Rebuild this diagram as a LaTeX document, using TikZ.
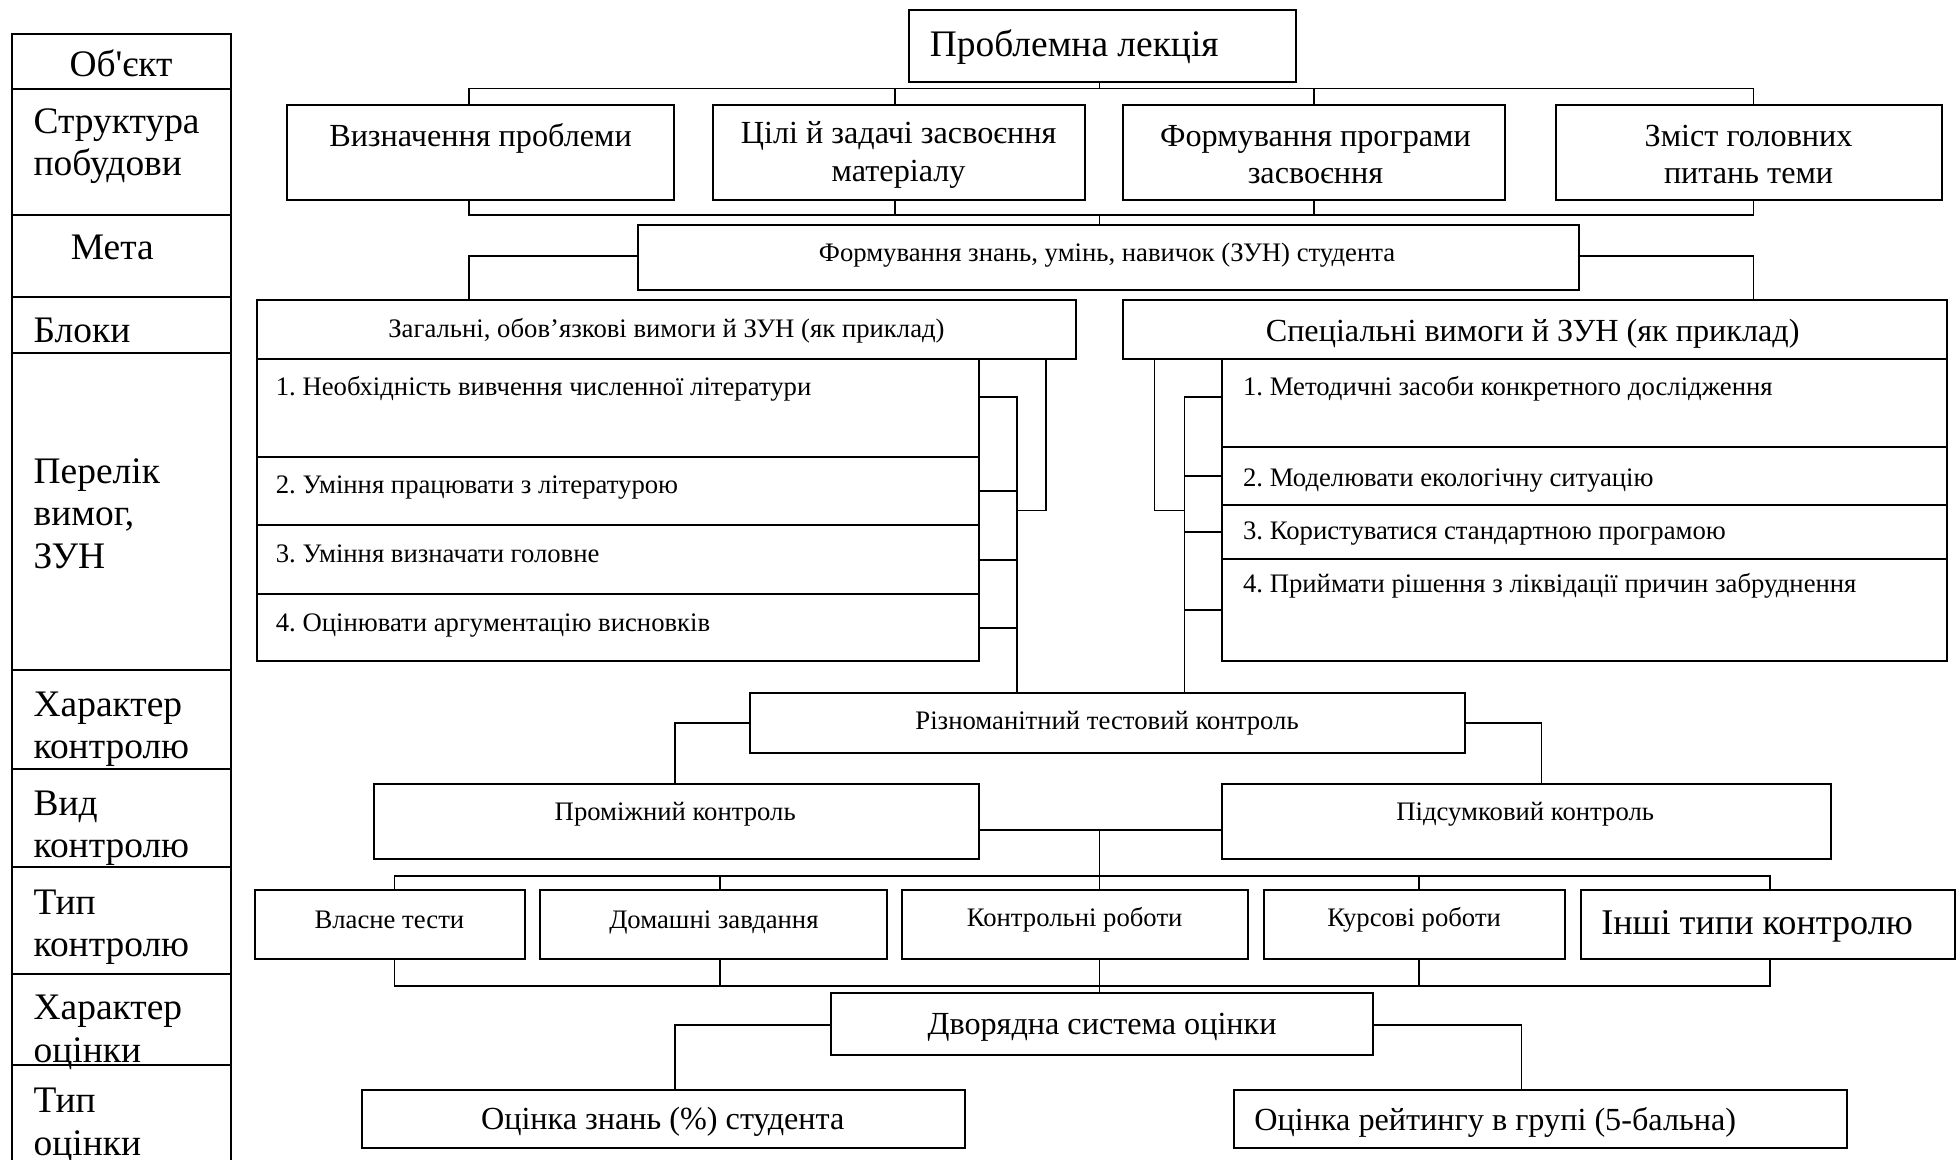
\documentclass[tikz,border=0pt]{standalone}
\usepackage{fontspec}
\setmainfont{Liberation Serif}[Ligatures=TeXOff]
\usetikzlibrary{fit}
\frenchspacing
\tikzset{
  box/.style={draw, line width=0.8pt, inner sep=0pt, outer sep=0pt},
  con/.style={line width=0.7pt},
  txt/.style={inner sep=0pt, outer sep=0pt, anchor=mid},
  ltxt/.style={inner sep=0pt, outer sep=0pt, anchor=mid west},
  mltxt/.style={inner sep=0pt, outer sep=0pt, anchor=west, align=left},
  mctxt/.style={inner sep=0pt, outer sep=0pt, anchor=center, align=center},
}
\newcommand\fColA{\fontsize{15}{17}\selectfont}
\newcommand\fInshi{\fontsize{14.5}{17}\selectfont}
\newcommand\fMid{\fontsize{12.9}{15}\selectfont}
\newcommand\fSm{\fontsize{10.7}{13}\selectfont}
\newcommand\fGrB{\fontsize{12.9}{15}\selectfont}
\newcommand\bx[5]{\node[box, fit={(#2,#3) (#4,#5)}] (#1) {};}
\begin{document}
\begin{tikzpicture}[x=0.5pt, y=-0.5pt]
\useasboundingbox (0,0) rectangle (1568,929);

% ---------- left column ----------
\bx{L1}{10}{27}{185}{71}
\bx{L2}{10}{71}{185}{172}
\bx{L3}{10}{172}{185}{238}
\bx{L4}{10}{238}{185}{283}
\bx{L5}{10}{283}{185}{537}
\bx{L6}{10}{537}{185}{616}
\bx{L7}{10}{616}{185}{695}
\bx{L8}{10}{695}{185}{780}
\bx{L9}{10}{780}{185}{853}
\bx{L10}{10}{853}{185}{945}

\node[txt, font=\fColA] (tL1) at (97,57) {Об'єкт};
\node[mltxt, font=\fColA] (tL2) at (27,117) {Структура\\побудови};
\node[txt, font=\fColA] (tL3) at (90,203) {Мета};
\node[ltxt, font=\fColA] (tL4) at (27,270) {Блоки};
\node[mltxt, font=\fColA] (tL5) at (27,411.5) {Перелік\\вимог,\\ЗУН};
\node[mltxt, font=\fColA] (tL6) at (27,584.5) {Характер\\контролю};
\node[mltxt, font=\fColA] (tL7) at (27,663.5) {Вид\\контролю};
\node[mltxt, font=\fColA] (tL8) at (27,743) {Тип\\контролю};
\node[mltxt, font=\fColA] (tL9) at (27,827) {Характер\\оцінки};
\node[mltxt, font=\fColA] (tL10) at (27,901.5) {Тип\\оцінки};

% ---------- boxes ----------
\bx{lec}{728}{8}{1038}{66}
\bx{vp}{230}{84}{540}{160}
\bx{cz}{571}{84}{869}{160}
\bx{fp}{900}{84}{1206}{160}
\bx{zg}{1247}{84}{1556}{160}
\bx{zun}{511}{180}{1265}{232}
\bx{gh}{206}{240}{862}{288}
\bx{sh}{900}{240}{1560}{288}
\bx{gi1}{206}{288}{784}{366}
\bx{gi2}{206}{366}{784}{421}
\bx{gi3}{206}{421}{784}{476}
\bx{gi4}{206}{476}{784}{530}
\bx{si1}{979}{288}{1560}{358}
\bx{si2}{979}{358}{1560}{405}
\bx{si3}{979}{405}{1560}{448}
\bx{si4}{979}{448}{1560}{530}
\bx{rt}{601}{555}{1174}{603}
\bx{pk}{300}{628}{784}{688}
\bx{sk}{979}{628}{1467}{688}
\bx{t1}{204}{713}{421}{768}
\bx{t2}{433}{713}{711}{768}
\bx{t3}{723}{713}{1000}{768}
\bx{t4}{1013}{713}{1254}{768}
\bx{t5}{1267}{713}{1566}{768}
\bx{dv}{666}{796}{1100}{845}
\bx{o1}{290}{873}{773}{920}
\bx{o2}{989}{873}{1480}{920}

% ---------- texts ----------
\node[ltxt, font=\fColA] (tlec) at (745,41) {Проблемна лекція};
\node[txt, font=\fMid] (tvp) at (385,113) {Визначення проблеми};
\node[mctxt, font=\fMid] (tcz) at (720,124) {Цілі й задачі засвоєння\\матеріалу};
\node[mctxt, font=\fMid] (tfp) at (1054,124) {Формування програми\\засвоєння};
\node[mctxt, font=\fMid] (tzg) at (1401,124) {Зміст головних\\питань теми};
\node[txt, font=\fSm] (tzun) at (887,205) {Формування знань, умінь, навичок (ЗУН) студента};
\node[txt, font=\fSm] (tgh) at (534,266) {Загальні, обов’язкові вимоги й ЗУН (як приклад)};
\node[txt, font=\fGrB] (tsh) at (1228,269) {Спеціальні вимоги й ЗУН (як приклад)};
\node[ltxt, font=\fSm] (tgi1) at (221,312) {1. Необхідність вивчення численної літератури};
\node[ltxt, font=\fSm] (tgi2) at (221,391) {2. Уміння працювати з літературою};
\node[ltxt, font=\fSm] (tgi3) at (221,446) {3. Уміння визначати головне};
\node[ltxt, font=\fSm] (tgi4) at (221,501) {4. Оцінювати аргументацію висновків};
\node[ltxt, font=\fSm] (tsi1) at (996,312) {1. Методичні засоби конкретного дослідження};
\node[ltxt, font=\fSm] (tsi2) at (996,385) {2. Моделювати екологічну ситуацію};
\node[ltxt, font=\fSm] (tsi3) at (996,428) {3. Користуватися стандартною програмою};
\node[ltxt, font=\fSm] (tsi4) at (996,470) {4. Приймати рішення з ліквідації причин забруднення};
\node[txt, font=\fSm] (trt) at (887,580) {Різноманітний тестовий контроль};
\node[txt, font=\fSm] (tpk) at (541,653) {Проміжний контроль};
\node[txt, font=\fSm] (tsk) at (1222,653) {Підсумковий контроль};
\node[txt, font=\fSm] (tt1) at (312,739) {Власне тести};
\node[txt, font=\fSm] (tt2) at (572,739) {Домашні завдання};
\node[txt, font=\fSm] (tt3) at (861,738) {Контрольні роботи};
\node[txt, font=\fSm] (tt4) at (1133,738) {Курсові роботи};
\node[ltxt, font=\fInshi] (tt5) at (1283,744) {Інші типи контролю};
\node[txt, font=\fGrB] (tdv) at (883,824) {Дворядна система оцінки};
\node[txt, font=\fGrB] (to1) at (531,900) {Оцінка знань (\%) студента};
\node[txt, font=\fGrB] (to2) at (1198,901) {Оцінка рейтингу в групі (5-бальна)};

% ---------- junction coordinates ----------
\coordinate (jA) at (376,71);  \coordinate (jB) at (717,71);
\coordinate (jC) at (881,71);  \coordinate (jD) at (1053,71);
\coordinate (jE) at (1405,71);
\coordinate (kA) at (376,172); \coordinate (kB) at (717,172);
\coordinate (kC) at (881,172); \coordinate (kD) at (1053,172);
\coordinate (kE) at (1405,172);
\coordinate (zA) at (376,205); \coordinate (zB) at (1405,205);
\coordinate (lb) at (815,318); \coordinate (lh) at (838,409);
\coordinate (rb) at (949,318); \coordinate (rh) at (925,409);
\coordinate (q1) at (541,579); \coordinate (q2) at (1235,579);
\coordinate (mm) at (881,665);
\coordinate (tA) at (316,702); \coordinate (tB) at (577,702);
\coordinate (tD) at (1137,702); \coordinate (tE) at (1418,702);
\coordinate (uA) at (316,790); \coordinate (uB) at (577,790);
\coordinate (uC) at (881,790); \coordinate (uD) at (1137,790);
\coordinate (uE) at (1418,790);
\coordinate (d1) at (541,821); \coordinate (d2) at (1219,821);

% ---------- connectors ----------
\draw[con] (vp.north -| jA) -- (jA) -- (jE) -- (zg.north -| jE);
\draw[con] (cz.north -| jB) -- (jB);
\draw[con] (fp.north -| jD) -- (jD);
\draw[con] (lec.south -| jC) -- (jC);
\draw[con] (vp.south -| kA) -- (kA) -- (kE) -- (zg.south -| kE);
\draw[con] (cz.south -| kB) -- (kB);
\draw[con] (fp.south -| kD) -- (kD);
\draw[con] (kC) -- (zun.north -| kC);
\draw[con] (zun.west |- zA) -- (zA) -- (gh.north -| zA);
\draw[con] (zun.east |- zB) -- (zB) -- (sh.north -| zB);

\draw[con] (gi1.east |- lb) -- (lb) -- (rt.north -| lb);
\draw[con] (gi2.east) -- (gi2.east -| lb);
\draw[con] (gi3.east) -- (gi3.east -| lb);
\draw[con] (gi4.east) -- (gi4.east -| lb);
\draw[con] (gh.south -| lh) -- (lh) -- (lh -| lb);

\draw[con] (si1.west |- rb) -- (rb) -- (rt.north -| rb);
\draw[con] (si2.west) -- (si2.west -| rb);
\draw[con] (si3.west) -- (si3.west -| rb);
\draw[con] (si4.west) -- (si4.west -| rb);
\draw[con] (sh.south -| rh) -- (rh) -- (rh -| rb);

\draw[con] (rt.west |- q1) -- (q1) -- (pk.north -| q1);
\draw[con] (rt.east |- q2) -- (q2) -- (sk.north -| q2);
\draw[con] (pk.east |- mm) -- (sk.west |- mm);
\draw[con] (mm) -- (t3.north -| mm);
\draw[con] (t1.north -| tA) -- (tA) -- (tE) -- (t5.north -| tE);
\draw[con] (t2.north -| tB) -- (tB);
\draw[con] (t4.north -| tD) -- (tD);
\draw[con] (t1.south -| uA) -- (uA) -- (uE) -- (t5.south -| uE);
\draw[con] (t2.south -| uB) -- (uB);
\draw[con] (t3.south -| uC) -- (uC) -- (dv.north -| uC);
\draw[con] (t4.south -| uD) -- (uD);
\draw[con] (dv.west |- d1) -- (d1) -- (o1.north -| d1);
\draw[con] (dv.east |- d2) -- (d2) -- (o2.north -| d2);
\end{tikzpicture}
\end{document}
